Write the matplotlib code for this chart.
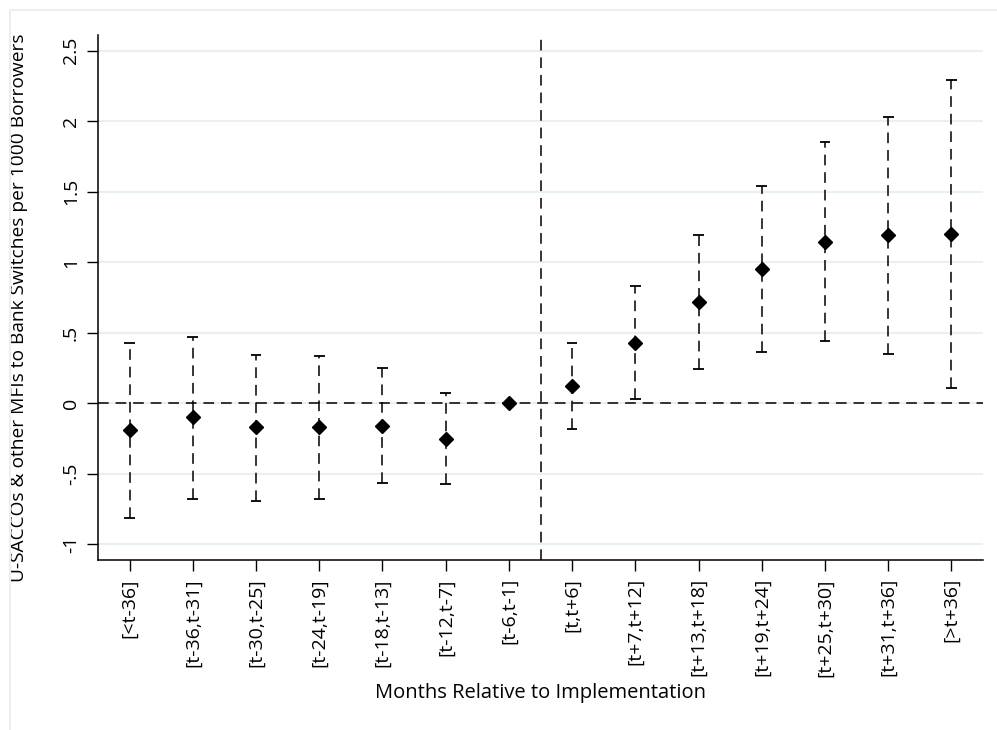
import matplotlib.pyplot as plt
import numpy as np
from matplotlib.patches import Rectangle

labels = ['[<t-36]', '[t-36,t-31]', '[t-30,t-25]', '[t-24,t-19]', '[t-18,t-13]',
          '[t-12,t-7]', '[t-6,t-1]', '[t,t+6]', '[t+7,t+12]', '[t+13,t+18]',
          '[t+19,t+24]', '[t+25,t+30]', '[t+31,t+36]', '[>t+36]']
coef = [-0.19, -0.10, -0.17, -0.17, -0.16, -0.25, 0.0,
        0.12, 0.43, 0.715, 0.95, 1.14, 1.19, 1.20]
ci_hi = [0.43, 0.47, 0.345, 0.335, 0.25, 0.07, 0.0,
         0.43, 0.83, 1.19, 1.54, 1.85, 2.03, 2.29]
ci_lo = [-0.81, -0.675, -0.69, -0.68, -0.565, -0.57, 0.0,
         -0.185, 0.03, 0.245, 0.365, 0.44, 0.35, 0.11]
yticks = [-1, -0.5, 0, 0.5, 1, 1.5, 2, 2.5]
ytick_labels = ['-1', '-.5', '0', '.5', '1', '1.5', '2', '2.5']

x = np.arange(len(labels))
coef = np.array(coef)
hi = np.array(ci_hi)
lo = np.array(ci_lo)

fig = plt.figure(figsize=(9.97, 7.3), dpi=100)
fig.patches.append(Rectangle((10 / 997, -0.01), 1.0, 1 - 10 / 730 + 0.01,
                             transform=fig.transFigure, fill=False,
                             edgecolor='#e8f0f2', linewidth=1.5))
ax = fig.add_axes([98 / 997, 170 / 730, 885 / 997, 525 / 730])

dash = (0, (7, 4.5))
has_ci = hi != lo
ax.vlines(x[has_ci], lo[has_ci], hi[has_ci], colors='black', linewidth=1.1,
          linestyles=[dash], zorder=3)
ax.hlines(np.concatenate([hi[has_ci], lo[has_ci]]),
          np.concatenate([x[has_ci], x[has_ci]]) - 0.085,
          np.concatenate([x[has_ci], x[has_ci]]) + 0.085,
          colors='black', linewidth=1.3, zorder=3)
ax.plot(x, coef, 'D', color='black', markersize=7.5, zorder=4)

ax.axhline(0, color='black', linewidth=1.1, linestyle=dash, zorder=2)
ax.axvline(6.5, color='black', linewidth=1.1, linestyle=dash, zorder=2)

ax.set_xlim(-0.5, 13.5)
ax.set_ylim(-1.11, 2.61)
ax.set_yticks(yticks)
ax.set_yticklabels(ytick_labels, rotation=90, va='center', fontsize=14,
                   family='Open Sans')
ax.set_xticks(x)
ax.set_xticklabels(labels, rotation=90, fontsize=14, family='Open Sans')
ax.tick_params(axis='both', direction='out', length=8, width=1, pad=5)
ax.grid(axis='y', color='#e8f0f2', linewidth=1.5, zorder=0)
ax.set_axisbelow(True)

for s in ['top', 'right']:
    ax.spines[s].set_visible(False)
ax.spines['left'].set_linewidth(1.1)
ax.spines['bottom'].set_linewidth(1.1)

ax.set_xlabel('Months Relative to Implementation', fontsize=14.5,
              family='Open Sans', va='center')
ax.xaxis.set_label_coords(0.5, (560 - 693) / 525)
ax.set_ylabel('U-SACCOs & other MFIs to Bank Switches per 1000 Borrowers',
              fontsize=13.8, family='Open Sans', va='center')
ax.yaxis.set_label_coords((19 - 98) / 885, 0.48)

fig.savefig('out.png', dpi=100)
